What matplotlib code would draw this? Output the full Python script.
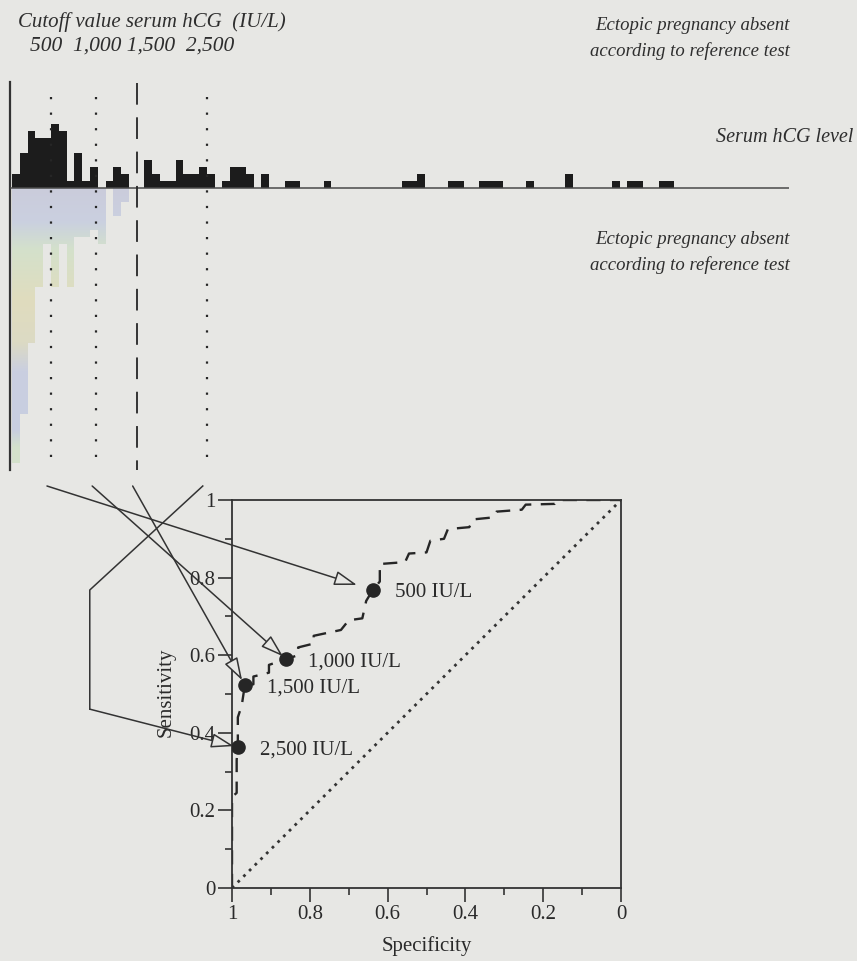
import numpy as np
import matplotlib
matplotlib.use('Agg')
import matplotlib.pyplot as plt
from matplotlib.colors import LinearSegmentedColormap
from matplotlib.patches import FancyArrowPatch, ArrowStyle
from matplotlib.path import Path
from matplotlib.lines import Line2D
from matplotlib.transforms import IdentityTransform

# Histograma de hCG serica, una barra por intervalo (eje en numero de intervalo)
conteo_ausente = [2, 5, 8, 7, 7, 9, 8, 1, 5, 1, 3, 0, 1, 3, 2, 0, 0, 4, 2, 1,
                  1, 4, 2, 2, 3, 2, 0, 1, 3, 3, 2, 0, 2, 0, 0, 1, 1, 0, 0, 0,
                  1, 0, 0, 0, 0, 0, 0, 0, 0, 0, 1, 1, 2, 0, 0, 0, 1, 1, 0, 0,
                  1, 1, 1, 0, 0, 0, 1, 0, 0, 0, 0, 2, 0, 0, 0, 0, 0, 1, 0, 1,
                  1, 0, 0, 1, 1]
# barras de abajo (segundo grupo segun la prueba de referencia)
conteo_abajo = [39, 32, 22, 14, 8, 14, 8, 14, 7, 7, 6, 8, 0, 4, 2]

# valores de corte y su posicion sobre el eje del histograma
cortes = ['500', '1,000', '1,500', '2,500']
corte_pos = [5.0, 10.8, 16.0, 25.0]

# curva ROC (especificidad, sensibilidad)
roc_spec = [1.000, 1.000, 0.988, 0.988, 0.985, 0.985, 0.975, 0.967, 0.945, 0.945,
            0.905, 0.905, 0.861, 0.830, 0.830, 0.790, 0.790, 0.720, 0.700, 0.665,
            0.655, 0.638, 0.620, 0.620, 0.555, 0.545, 0.500, 0.490, 0.455, 0.445,
            0.390, 0.380, 0.330, 0.320, 0.255, 0.245, 0.170, 0.160, 0.000]
roc_sens = [0.000, 0.235, 0.245, 0.330, 0.363, 0.440, 0.470, 0.523, 0.525, 0.545,
            0.555, 0.575, 0.590, 0.600, 0.620, 0.630, 0.650, 0.665, 0.690, 0.695,
            0.740, 0.768, 0.790, 0.835, 0.840, 0.862, 0.865, 0.895, 0.900, 0.925,
            0.930, 0.950, 0.955, 0.970, 0.975, 0.988, 0.990, 1.000, 1.000]
# puntos de cada valor de corte
punto_spec = [0.638, 0.861, 0.967, 0.985]
punto_sens = [0.768, 0.590, 0.523, 0.363]

FONDO = '#e7e7e4'
TINTA = '#262626'
W, H = 857, 961

plt.rcParams['font.family'] = ['Liberation Serif', 'DejaVu Serif']


def caja(x0, y0, x1, y1):
    # convierte una caja en pixeles (origen arriba a la izquierda) a fraccion de figura
    return [x0 / W, 1 - y1 / H, (x1 - x0) / W, (y1 - y0) / H]


def texto(fig, x, y, s, **kw):
    fig.text(x / W, 1 - y / H, s, **kw)


fig = plt.figure(figsize=(W / 100, H / 100), dpi=100, facecolor=FONDO)

# ---------------- histograma ----------------
ax_h = fig.add_axes(caja(10, 82, 789, 470))
ax_h.set_facecolor('none')
x = np.arange(len(conteo_ausente))
ax_h.bar(x, conteo_ausente, width=1, align='edge', color='#1c1c1c', linewidth=0, zorder=3)

# barras hacia abajo con degradado pastel
xa = np.arange(len(conteo_abajo))
barras = ax_h.bar(xa, -np.array(conteo_abajo), width=1, align='edge', color='none', linewidth=0)
rutas = []
for b in barras:
    x0, y0 = b.get_x(), b.get_y()
    w, h = b.get_width(), b.get_height()
    rutas.append(Path([(x0, y0), (x0 + w, y0), (x0 + w, y0 + h), (x0, y0 + h), (x0, y0)],
                      [Path.MOVETO, Path.LINETO, Path.LINETO, Path.LINETO, Path.CLOSEPOLY]))
ruta_total = Path.make_compound_path(*rutas)
cmap = LinearSegmentedColormap.from_list('pastel', [
    (0.00, '#cbccdb'), (0.12, '#cad0e0'), (0.22, '#d4e1cb'), (0.40, '#e0dcbe'),
    (0.55, '#dcdac4'), (0.65, '#cacfe0'), (0.86, '#c8cee0'), (0.92, '#d4e1cb'),
    (1.00, '#d4e1cb')])
grad = np.linspace(0, 1, 256).reshape(-1, 1)
im = ax_h.imshow(grad, cmap=cmap, extent=[0, len(conteo_abajo), -40, 0], aspect='auto',
                 origin='upper', zorder=2)
im.set_clip_path(ruta_total, ax_h.transData)

ax_h.axhline(0, color='#4a4a4a', lw=1.1, zorder=4)
ax_h.set_xlim(-0.26, 99.74)
ax_h.set_ylim(-40, 15)
for lado in ['top', 'right', 'bottom']:
    ax_h.spines[lado].set_visible(False)
ax_h.spines['left'].set_color('#333333')
ax_h.spines['left'].set_linewidth(1.6)
ax_h.set_xticks([])
ax_h.set_yticks([])

# lineas de los valores de corte
for c, lab in zip(corte_pos, cortes):
    if lab == '1,500':
        ax_h.plot([c, c], [14.9, -40], color=TINTA, lw=1.3, ls=(0, (12, 7)), zorder=5)
    else:
        ax_h.plot([c, c], [12.9, -40], color=TINTA, lw=1.6, ls=(0, (1, 6)), zorder=5)

# ---------------- curva ROC ----------------
ax_r = fig.add_axes(caja(232, 500, 621, 888))
ax_r.set_facecolor('none')
ax_r.plot([1, 0], [0, 1], color='#333333', lw=2.0, ls=(0, (1, 1.9)))
ax_r.plot(roc_spec, roc_sens, color=TINTA, lw=1.7, ls=(0, (6, 4)))
ax_r.plot(punto_spec, punto_sens, 'o', ms=9.5, color=TINTA, zorder=5)
for s, v, lab in zip(punto_spec, punto_sens, cortes):
    ax_r.annotate(lab + ' IU/L', (s, v), xytext=(16, -2), textcoords='offset points',
                  va='center', ha='left', fontsize=15, color='#2a2a2a')
ax_r.set_xlim(1, 0)
ax_r.set_ylim(0, 1)
marcas = [0, 0.2, 0.4, 0.6, 0.8, 1]
nombres = ['0', '0.2', '0.4', '0.6', '0.8', '1']
ax_r.set_xticks(marcas)
ax_r.set_xticklabels(nombres)
ax_r.set_yticks(marcas)
ax_r.set_yticklabels(nombres)
ax_r.set_xticks([0.1, 0.3, 0.5, 0.7, 0.9], minor=True)
ax_r.set_yticks([0.1, 0.3, 0.5, 0.7, 0.9], minor=True)
ax_r.tick_params(which='major', length=10, width=1.2, color='#333333', pad=2,
                 labelsize=15, labelcolor='#2a2a2a')
ax_r.tick_params(which='minor', length=5, width=1.2, color='#333333')
for lado in ax_r.spines.values():
    lado.set_color('#333333')
    lado.set_linewidth(1.3)
ax_r.set_xlabel('Specificity', fontsize=15, color='#2a2a2a')
ax_r.set_ylabel('Sensitivity', fontsize=15, color='#2a2a2a')
ax_r.xaxis.set_label_coords(0.5, -0.125)
ax_r.yaxis.set_label_coords(-0.145, 0.505)

# ---------------- conectores ----------------
flecha = ArrowStyle('-|>', head_length=14, head_width=4.5)
encoger = [12, 3, 4, 3]
for i, c in enumerate(corte_pos):
    x0, y0 = ax_h.transData.transform((c, -40))
    inicio = (x0 - 4, y0 - 16)
    fin = ax_r.transData.transform((punto_spec[i], punto_sens[i]))
    if i == 3:
        # el ultimo conector rodea por la izquierda
        c1 = (inicio[0] - 113, inicio[1] - 104)
        c2 = (inicio[0] - 113, fin[1] + 38)
        fig.add_artist(Line2D([inicio[0], c1[0], c2[0]], [inicio[1], c1[1], c2[1]],
                              transform=IdentityTransform(), color='#333333', lw=1.1))
        inicio = c2
    fig.add_artist(FancyArrowPatch(inicio, fin, arrowstyle=flecha, mutation_scale=1,
                                   shrinkA=0, shrinkB=encoger[i], transform=IdentityTransform(),
                                   fc=FONDO, ec='#333333', lw=1.1, zorder=6))

# ---------------- textos ----------------
italica = dict(style='italic', color='#2e2e2e')
texto(fig, 18, 22, 'Cutoff value serum hCG  (IU/L)', fontsize=15, ha='left', va='center', **italica)
texto(fig, 30, 46, f'{cortes[0]}  {cortes[1]} {cortes[2]}  {cortes[3]}', fontsize=15.5,
      ha='left', va='center', **italica)
texto(fig, 790, 25, 'Ectopic pregnancy absent', fontsize=13.5, ha='right', va='center', **italica)
texto(fig, 790, 51, 'according to reference test', fontsize=13.5, ha='right', va='center', **italica)
texto(fig, 853, 137, 'Serum hCG level', fontsize=14.5, ha='right', va='center', **italica)
texto(fig, 790, 239, 'Ectopic pregnancy absent', fontsize=13.5, ha='right', va='center', **italica)
texto(fig, 790, 265, 'according to reference test', fontsize=13.5, ha='right', va='center', **italica)

fig.savefig('out.png', dpi=100, facecolor=FONDO)
